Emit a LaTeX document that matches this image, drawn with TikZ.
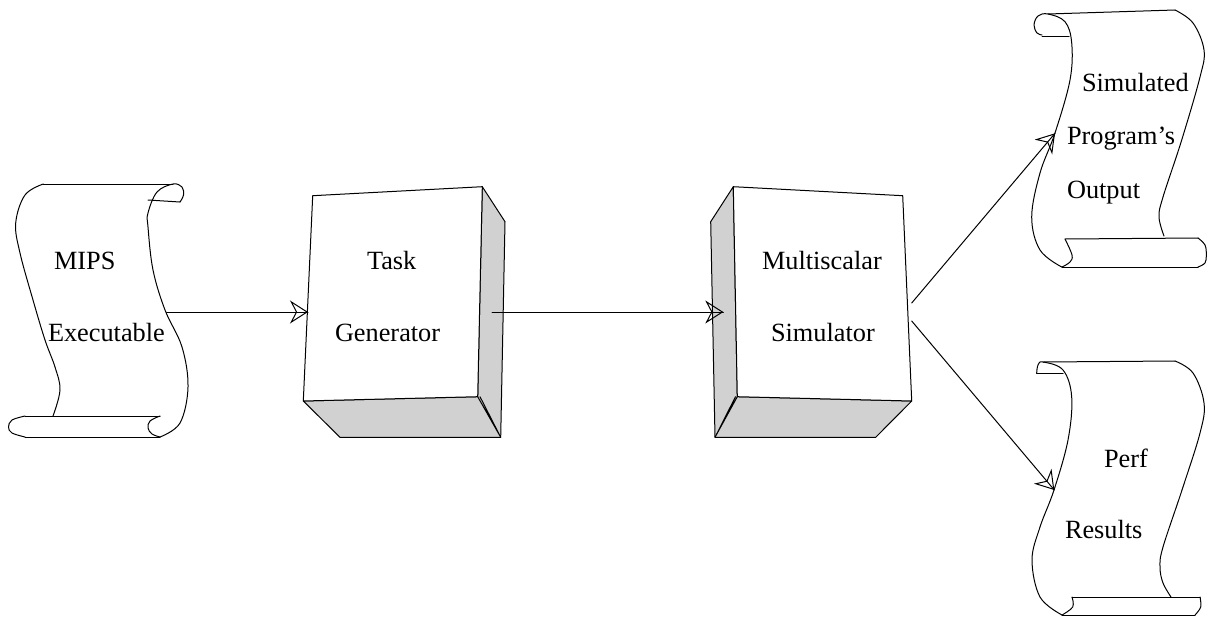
\documentclass[tikz,border=0pt]{standalone}
\usepackage{fontspec}
\setmainfont{Liberation Serif}
\usetikzlibrary{arrows.meta,decorations.markings}
\definecolor{shade}{gray}{0.82}
\tikzset{
  lbl/.style={anchor=base west,inner sep=0pt,outer sep=0pt,font=\fontsize{26.3}{30}\selectfont},
  port/.style={inner sep=0pt,outer sep=0pt,minimum height=18pt},
  ink/.style={line width=1pt,line join=round,line cap=round},
  faceA/.style={ink,fill=white},
  faceB/.style={ink,fill=shade},
  sm/.style={smooth,tension=0.6},
  conn/.style={ink,postaction={decorate},decoration={markings,mark=at position 1 with {\arrow[line width=1pt]{Stealth[open,length=18pt,width=23pt,inset=6pt]}}}}
}
\begin{document}
\begin{tikzpicture}[x=1pt,y=-1pt]
\useasboundingbox (0,0) rectangle (1207,616);
% MIPS scroll
\draw[ink] plot[sm] coordinates {(43.3,184)(25,195)(15.7,223)(20,253)(33,300)(45,340)(55,367)(60,390)(53,416)};
\draw[ink] (43.3,184) -- (173,184);
\draw[ink] plot[sm] coordinates {(160,437)(180,423)(188,387)(182,347)(165,310)(153,270)(148,227)(148,213)(157,192)(173,184)(182,187)(183.5,195)(180,202)};
\draw[ink] (148,200) -- (180,202);
\draw[ink] (25,416) -- (160,416);
\draw[ink] (25,437) -- (160,437);
\draw[ink] plot[sm] coordinates {(25,416)(12,420)(8.5,427)(12,433)(25,437)};
\draw[ink] plot[sm] coordinates {(160,416)(150,421)(148,428)(152,434)(160,437)};
\node[port,minimum width=150pt] (mips) at (91.5,312) {};
\node[lbl] (mipsA) at (54,269) {MIPS};
\node[lbl] (mipsB) at (48,341) {Executable};
% Task generator
\draw[faceB] (482.3,186.7) -- (505,221.7) -- (500.7,437.3) -- (340,437.3) -- (303.3,401) -- (477.7,396.7) -- cycle;
\draw[faceA] (312.7,195.7) -- (482.3,186.7) -- (477.7,396.7) -- (303.3,401) -- cycle;
\draw[ink] (477.7,396.7) -- (500.7,437.3) (480,396.7) -- (500.7,437.3);
\node[port,minimum width=184pt] (task) at (400,312) {};
\node[lbl] (taskA) at (367,269) {Task};
\node[lbl] (taskB) at (335,341) {Generator};
% Multiscalar simulator
\draw[faceB] (733.3,186.7) -- (710.7,221.7) -- (715,437.3) -- (875.7,437.3) -- (911.7,401) -- (737.3,396.7) -- cycle;
\draw[faceA] (733.3,186.7) -- (902.7,195.7) -- (911.7,401) -- (737.3,396.7) -- cycle;
\draw[ink] (737.3,396.7) -- (715,437.3) (735.5,396.7) -- (715,437.3);
\node[port,minimum width=188.4pt] (multi) at (817.5,312) {};
\node[lbl] (multiA) at (762,269) {Multiscalar};
\node[lbl] (multiB) at (771,341) {Simulator};
% Simulated output scroll
\draw[ink] plot[sm] coordinates {(1042,35)(1037,33)(1034,25)(1038,16)(1048,14)(1065,21.7)(1071.7,43)(1070,80)(1055,133)(1040,173)(1031.7,217)(1040,250)(1061.7,267)};
\draw[ink] (1048,14) -- (1175,10);
\draw[ink] (1042,36.7) -- (1069,36.7);
\draw[ink] plot[sm] coordinates {(1175,10)(1193,23)(1204,50)(1200,77)(1181.7,140)(1163,197)(1159,217)(1164,236)};
\draw[ink] (1065,239) -- (1198,238);
\draw[ink] plot[sm] coordinates {(1198,238)(1205,245)(1206.3,255)(1205,263)(1198,267)};
\draw[ink] (1062,267) -- (1198,267);
\draw[ink] plot[sm] coordinates {(1065,239)(1072,255)(1070,262)(1062,267)};
\node[port,minimum width=127pt] (simout) at (1118.5,133.3) {};
\node[lbl] (simA) at (1082,91) {Simulated};
\node[lbl] (simB) at (1067,144) {Program’s};
\node[lbl] (simC) at (1067,198) {Output};
% Perf results scroll
\draw[ink] plot[sm] coordinates {(1036.7,373)(1038,365)(1043,362)(1063,370)(1071.7,397)(1068,440)(1054,490)(1040,527)(1032,560)(1040,597)(1062,615)};
\draw[ink] (1043,362) -- (1175,361);
\draw[ink] (1036.7,373.5) -- (1063,373.5);
\draw[ink] plot[sm] coordinates {(1175,361)(1193,373)(1204,403)(1200,433)(1182,490)(1163,547)(1160,567)(1163,583)(1171,597)};
\draw[ink] (1072,597) -- (1200,597);
\draw[ink] plot[sm] coordinates {(1200,597)(1200.7,607)(1195,615)};
\draw[ink] (1062,615) -- (1195,615);
\draw[ink] plot[sm] coordinates {(1072,597)(1072.7,607)(1062,615)};
\node[port,minimum width=127pt] (perf) at (1117.8,490) {};
\node[lbl] (perfA) at (1104,467) {Perf};
\node[lbl] (perfB) at (1065,538) {Results};
% Connectors
\draw[conn] (mips.east) -- (task.west);
\draw[conn] (task.east) -- (multi.west);
\draw[conn] (multi.north east) -- (simout.west);
\draw[conn] (multi.south east) -- (perf.west);
\end{tikzpicture}
\end{document}
